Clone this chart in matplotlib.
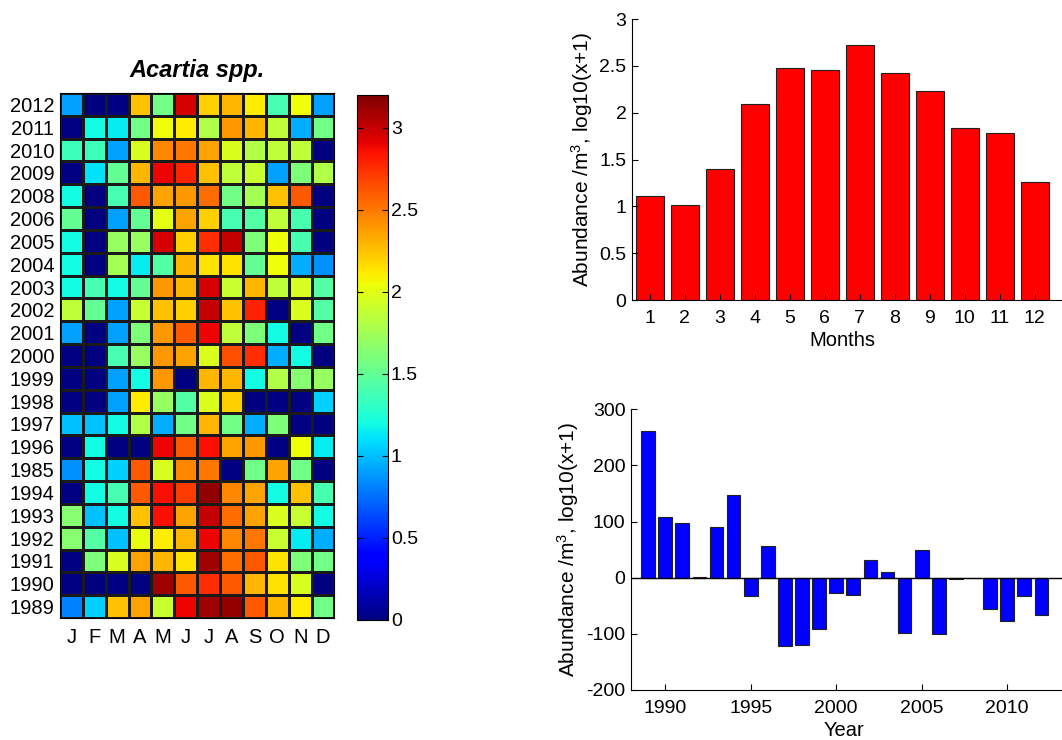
import matplotlib
matplotlib.use('Agg')
import matplotlib.pyplot as plt
import numpy as np
from matplotlib.ticker import FormatStrFormatter

plt.rcParams['font.family'] = ['Liberation Sans', 'DejaVu Sans']
plt.rcParams['mathtext.fontset'] = 'custom'
plt.rcParams['mathtext.rm'] = 'Liberation Sans'
plt.rcParams['mathtext.default'] = 'regular'
plt.rcParams['axes.unicode_minus'] = False

# ---------------- data ----------------
heat_title = 'Acartia spp.'
month_letters = ['J', 'F', 'M', 'A', 'M', 'J', 'J', 'A', 'S', 'O', 'N', 'D']
year_labels = ['2012', '2011', '2010', '2009', '2008', '2006', '2005', '2004',
               '2003', '2002', '2001', '2000', '1999', '1998', '1997', '1996',
               '1985', '1994', '1993', '1992', '1991', '1990', '1989']

row_2012 = [0.90, 0.00, 0.00, 2.25, 1.55, 2.95, 2.20, 2.30, 2.10, 1.40, 2.05, 0.90]
row_2011 = [0.00, 1.20, 1.15, 1.55, 2.05, 2.10, 1.80, 2.40, 2.30, 1.85, 0.95, 1.55]
row_2010 = [1.35, 1.35, 0.90, 1.95, 2.45, 2.50, 2.35, 1.97, 1.80, 1.85, 1.85, 0.00]
row_2009 = [0.00, 1.10, 1.50, 2.30, 2.90, 2.80, 2.25, 1.85, 1.90, 0.90, 1.60, 1.80]
row_2008 = [1.20, 0.00, 1.40, 2.60, 2.35, 2.40, 2.55, 1.55, 1.75, 2.25, 2.60, 0.00]
row_2006 = [1.50, 0.00, 0.90, 1.50, 2.00, 2.35, 2.20, 1.40, 1.45, 1.85, 1.40, 0.00]
row_2005 = [1.20, 0.00, 1.70, 1.70, 2.95, 2.20, 2.75, 3.00, 1.60, 2.05, 1.40, 0.00]
row_2004 = [1.20, 0.00, 1.75, 1.15, 1.45, 2.30, 2.15, 2.15, 1.50, 2.05, 0.95, 0.85]
row_2003 = [1.20, 1.40, 1.20, 1.50, 2.40, 2.30, 2.95, 1.90, 2.30, 1.85, 1.95, 1.45]
row_2002 = [1.85, 1.50, 0.90, 1.90, 2.25, 2.20, 3.00, 2.25, 2.80, 0.00, 1.97, 1.45]
row_2001 = [0.90, 0.00, 0.90, 1.60, 2.40, 2.60, 2.90, 1.85, 1.60, 1.20, 0.00, 1.55]
row_2000 = [0.00, 0.00, 1.40, 1.70, 2.40, 2.35, 1.97, 2.65, 2.75, 0.95, 1.20, 0.00]
row_1999 = [0.00, 0.00, 0.90, 1.20, 2.40, 0.00, 2.30, 2.30, 1.20, 1.80, 1.65, 1.70]
row_1998 = [0.00, 0.00, 0.90, 2.10, 1.70, 1.45, 1.97, 2.20, 0.00, 0.00, 0.00, 1.05]
row_1997 = [1.00, 1.00, 1.20, 1.80, 0.95, 1.55, 2.30, 1.55, 0.95, 1.60, 0.00, 0.00]
row_1996 = [0.00, 1.20, 0.00, 0.00, 2.90, 2.60, 2.85, 2.35, 2.40, 0.00, 2.05, 1.15]
row_1985 = [0.85, 1.20, 1.05, 2.60, 1.95, 2.45, 2.50, 0.00, 1.55, 2.35, 1.55, 0.00]
row_1994 = [0.00, 1.20, 1.40, 2.60, 2.85, 2.70, 3.15, 2.45, 2.35, 1.20, 2.25, 1.40]
row_1993 = [1.65, 1.00, 1.20, 2.25, 2.85, 2.35, 3.00, 2.55, 2.35, 1.97, 1.90, 1.20]
row_1992 = [1.65, 1.45, 1.00, 2.02, 2.10, 2.30, 2.90, 2.45, 2.50, 1.90, 1.15, 0.95]
row_1991 = [0.00, 1.60, 1.95, 2.35, 2.30, 2.15, 3.10, 2.55, 2.60, 2.15, 1.60, 1.55]
row_1990 = [0.00, 0.00, 0.00, 0.00, 3.10, 2.60, 2.75, 2.60, 2.30, 2.15, 1.95, 0.00]
row_1989 = [0.80, 1.05, 2.25, 2.35, 1.90, 2.90, 3.10, 3.15, 2.60, 2.30, 2.10, 1.55]

colorbar_ticks = [0, 0.5, 1, 1.5, 2, 2.5, 3]

month_numbers = [1, 2, 3, 4, 5, 6, 7, 8, 9, 10, 11, 12]
monthly_means = [1.11, 1.01, 1.40, 2.09, 2.48, 2.46, 2.72, 2.42, 2.23, 1.84, 1.78, 1.26]

anomaly_years = [1989, 1990, 1991, 1992, 1993, 1994, 1995, 1996, 1997, 1998,
                 1999, 2000, 2001, 2002, 2003, 2004, 2005, 2006, 2007, 2008,
                 2009, 2010, 2011, 2012]
anomaly_values = [261, 109, 97, 2, 91, 148, -32, 56, -122, -120,
                  -91, -27, -30, 31, 11, -98, 50, -101, -3, 0,
                  -56, -77, -33, -66]

ylab = 'Abundance /m$^{3}$, log10(x+1)'

# ---------------- figure ----------------
W, H = 1062.0, 740.0
fig = plt.figure(figsize=(W / 100, H / 100), dpi=100)

def frac(x0, y0, x1, y1):
    return [x0 / W, 1 - y1 / H, (x1 - x0) / W, (y1 - y0) / H]

# heatmap
heat = np.array([row_2012, row_2011, row_2010, row_2009, row_2008, row_2006,
                 row_2005, row_2004, row_2003, row_2002, row_2001, row_2000,
                 row_1999, row_1998, row_1997, row_1996, row_1985, row_1994,
                 row_1993, row_1992, row_1991, row_1990, row_1989])
axh = fig.add_axes(frac(60, 93, 334.5, 618))
cmap = plt.get_cmap('jet')
mesh = axh.pcolormesh(np.arange(13), np.arange(24), heat, cmap=cmap,
                      vmin=0, vmax=3.2, edgecolors='#1a1a1a', linewidth=0.8)
axh.set_xlim(0, 12)
axh.set_ylim(23, 0)
axh.set_xticks(np.arange(12) + 0.5)
axh.set_xticklabels(month_letters, fontsize=14.5)
axh.set_yticks(np.arange(23) + 0.5)
axh.set_yticklabels(year_labels, fontsize=14.5)
axh.tick_params(length=0)
axh.tick_params(axis='x', pad=7)
axh.tick_params(axis='y', pad=4)
for s in axh.spines.values():
    s.set_linewidth(0.8)
axh.set_title(heat_title, fontsize=17, fontweight='bold', style='italic', pad=11.7)

# colorbar
cax = fig.add_axes(frac(357, 95, 388, 620))
cb = fig.colorbar(mesh, cax=cax)
cb.set_ticks(colorbar_ticks)
cb.ax.yaxis.set_major_formatter(FormatStrFormatter('%g'))
cax.tick_params(direction='in', left=True, right=True, length=4, width=0.8,
                labelsize=14, pad=2)
cb.outline.set_linewidth(0.8)

# monthly bar chart
ax1 = fig.add_axes(frac(632, 19, 632 + 35 * 12.5, 300))
ax1.bar(month_numbers, monthly_means, width=0.8, color='#ff0000',
        edgecolor='#202020', linewidth=0.8)
ax1.set_xlim(0.5, 13)
ax1.set_ylim(0, 3)
ax1.set_xticks(month_numbers)
ax1.set_yticks([0, 0.5, 1, 1.5, 2, 2.5, 3])
ax1.yaxis.set_major_formatter(FormatStrFormatter('%g'))
ax1.tick_params(direction='in', labelsize=14, length=4, width=0.8)
ax1.tick_params(axis='x', pad=7)
ax1.tick_params(axis='y', pad=4)
ax1.spines['top'].set_visible(False)
ax1.spines['right'].set_visible(False)
ax1.set_ylabel(ylab, fontsize=15, va='center')
ax1.yaxis.set_label_coords((582 - 632) / 437.5, 0.5)
ax1.set_xlabel('Months', fontsize=14.5, va='center')
ax1.xaxis.set_label_coords((842.5 - 632) / 437.5, (300 - 340) / 281.0)

# annual anomaly bar chart
ax2 = fig.add_axes(frac(631, 409.3, 631 + 17.1 * 26, 690))
ax2.bar(anomaly_years, anomaly_values, width=0.8, color='#0000ff',
        edgecolor='#202020', linewidth=0.8)
ax2.axhline(0, color='k', linewidth=1.0)
ax2.set_xlim(1988, 2014)
ax2.set_ylim(-200, 300)
ax2.set_xticks([1990, 1995, 2000, 2005, 2010])
ax2.set_yticks([-200, -100, 0, 100, 200, 300])
ax2.tick_params(direction='in', labelsize=14, length=4, width=0.8)
ax2.tick_params(axis='x', pad=7)
ax2.tick_params(axis='y', pad=4)
ax2.spines['top'].set_visible(False)
ax2.spines['right'].set_visible(False)
ax2.set_ylabel(ylab, fontsize=15, va='center')
ax2.yaxis.set_label_coords((568 - 631) / 444.6, 0.5)
ax2.set_xlabel('Year', fontsize=14.5, va='center')
ax2.xaxis.set_label_coords((844 - 631) / 444.6, (690 - 730) / 280.7)

fig.savefig('out.png', dpi=100)
